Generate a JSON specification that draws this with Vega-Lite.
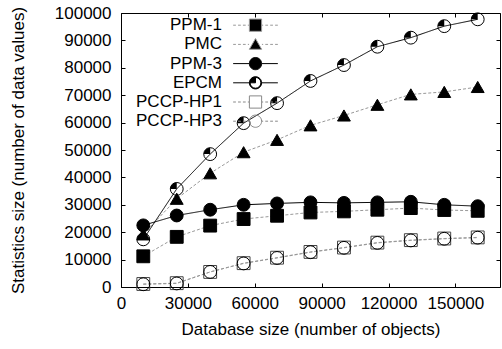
{
  "$schema": "https://vega.github.io/schema/vega-lite/v6.json",
  "width": 379,
  "height": 274,
  "autosize": "none",
  "padding": {"left": 121, "top": 13, "right": 2, "bottom": 62},
  "config": {
    "font": "Liberation Sans",
    "view": {"stroke": "black", "strokeWidth": 1},
    "axis": {"grid": false, "domain": false, "labelFontSize": 17, "titleFontSize": 17, "titleFontWeight": "normal", "labelColor": "black", "titleColor": "black", "tickColor": "black", "labelFont": "Liberation Sans", "titleFont": "Liberation Sans"}
  },
  "data": {"values": [
    {"x": 10000, "y": 11200, "s": "PPM-1"}, {"x": 25000, "y": 18300, "s": "PPM-1"}, {"x": 40000, "y": 22400, "s": "PPM-1"}, {"x": 55000, "y": 24800, "s": "PPM-1"}, {"x": 70000, "y": 26000, "s": "PPM-1"}, {"x": 85000, "y": 27200, "s": "PPM-1"}, {"x": 100000, "y": 27600, "s": "PPM-1"}, {"x": 115000, "y": 28200, "s": "PPM-1"}, {"x": 130000, "y": 28800, "s": "PPM-1"}, {"x": 145000, "y": 28100, "s": "PPM-1"}, {"x": 160000, "y": 27800, "s": "PPM-1"},
    {"x": 10000, "y": 19200, "s": "PMC"}, {"x": 25000, "y": 32200, "s": "PMC"}, {"x": 40000, "y": 41500, "s": "PMC"}, {"x": 55000, "y": 49200, "s": "PMC"}, {"x": 70000, "y": 53700, "s": "PMC"}, {"x": 85000, "y": 59000, "s": "PMC"}, {"x": 100000, "y": 62600, "s": "PMC"}, {"x": 115000, "y": 66500, "s": "PMC"}, {"x": 130000, "y": 70300, "s": "PMC"}, {"x": 145000, "y": 71200, "s": "PMC"}, {"x": 160000, "y": 73000, "s": "PMC"},
    {"x": 10000, "y": 22500, "s": "PPM-3"}, {"x": 25000, "y": 26100, "s": "PPM-3"}, {"x": 40000, "y": 28200, "s": "PPM-3"}, {"x": 55000, "y": 30000, "s": "PPM-3"}, {"x": 70000, "y": 30500, "s": "PPM-3"}, {"x": 85000, "y": 30900, "s": "PPM-3"}, {"x": 100000, "y": 30700, "s": "PPM-3"}, {"x": 115000, "y": 30900, "s": "PPM-3"}, {"x": 130000, "y": 31100, "s": "PPM-3"}, {"x": 145000, "y": 30000, "s": "PPM-3"}, {"x": 160000, "y": 29500, "s": "PPM-3"},
    {"x": 10000, "y": 17400, "s": "EPCM"}, {"x": 25000, "y": 35800, "s": "EPCM"}, {"x": 40000, "y": 48500, "s": "EPCM"}, {"x": 55000, "y": 59800, "s": "EPCM"}, {"x": 70000, "y": 67100, "s": "EPCM"}, {"x": 85000, "y": 75200, "s": "EPCM"}, {"x": 100000, "y": 81000, "s": "EPCM"}, {"x": 115000, "y": 87700, "s": "EPCM"}, {"x": 130000, "y": 91000, "s": "EPCM"}, {"x": 145000, "y": 95200, "s": "EPCM"}, {"x": 160000, "y": 97700, "s": "EPCM"},
    {"x": 10000, "y": 1100, "s": "PCCP-HP1"}, {"x": 25000, "y": 1400, "s": "PCCP-HP1"}, {"x": 40000, "y": 5500, "s": "PCCP-HP1"}, {"x": 55000, "y": 8700, "s": "PCCP-HP1"}, {"x": 70000, "y": 10700, "s": "PCCP-HP1"}, {"x": 85000, "y": 12800, "s": "PCCP-HP1"}, {"x": 100000, "y": 14400, "s": "PCCP-HP1"}, {"x": 115000, "y": 16200, "s": "PCCP-HP1"}, {"x": 130000, "y": 17100, "s": "PCCP-HP1"}, {"x": 145000, "y": 17700, "s": "PCCP-HP1"}, {"x": 160000, "y": 18100, "s": "PCCP-HP1"},
    {"x": 10000, "y": 1000, "s": "PCCP-HP3"}, {"x": 25000, "y": 1300, "s": "PCCP-HP3"}, {"x": 40000, "y": 5500, "s": "PCCP-HP3"}, {"x": 55000, "y": 8600, "s": "PCCP-HP3"}, {"x": 70000, "y": 10600, "s": "PCCP-HP3"}, {"x": 85000, "y": 12700, "s": "PCCP-HP3"}, {"x": 100000, "y": 14300, "s": "PCCP-HP3"}, {"x": 115000, "y": 16100, "s": "PCCP-HP3"}, {"x": 130000, "y": 17000, "s": "PCCP-HP3"}, {"x": 145000, "y": 17600, "s": "PCCP-HP3"}, {"x": 160000, "y": 18000, "s": "PCCP-HP3"}
  ]},
  "resolve": {
    "scale": {"shape": "independent", "fill": "independent", "stroke": "independent"},
    "axis": {"x": "independent", "y": "independent"}
  },
  "layer": [
    {
      "mark": {"type": "line", "strokeWidth": 1},
      "encoding": {
        "x": {"field": "x", "type": "quantitative", "scale": {"domain": [0, 170000], "nice": false},
          "axis": {"orient": "bottom", "title": "Database size (number of objects)", "values": [0, 30000, 60000, 90000, 120000, 150000], "format": "d", "tickSize": -4, "labelPadding": 12, "labelFlush": false, "titlePadding": 10}},
        "y": {"field": "y", "type": "quantitative", "scale": {"domain": [0, 100000], "nice": false},
          "axis": {"orient": "left", "title": "Statistics size (number of data values)", "values": [0, 10000, 20000, 30000, 40000, 50000, 60000, 70000, 80000, 90000, 100000], "format": "d", "tickSize": -4, "labelPadding": 14, "titlePadding": 27}},
        "detail": {"field": "s"},
        "color": {"field": "s", "type": "nominal", "legend": null, "scale": {"domain": ["PPM-1", "PMC", "PPM-3", "EPCM", "PCCP-HP1", "PCCP-HP3"], "range": ["#999999", "#999999", "#000000", "#000000", "#999999", "#999999"]}},
        "strokeDash": {"field": "s", "type": "nominal", "legend": null, "scale": {"domain": ["PPM-1", "PMC", "PPM-3", "EPCM", "PCCP-HP1", "PCCP-HP3"], "range": [[3, 2], [3, 2], [1, 0], [1, 0], [3, 2], [3, 2]]}}
      }
    },
    {
      "mark": {"type": "point", "strokeWidth": 1, "opacity": 1, "size": 165},
      "encoding": {
        "x": {"field": "x", "type": "quantitative", "axis": null},
        "y": {"field": "y", "type": "quantitative", "axis": null},
        "shape": {"field": "s", "type": "nominal", "legend": null, "scale": {"domain": ["PPM-1", "PMC", "PPM-3", "EPCM", "PCCP-HP1", "PCCP-HP3"], "range": ["square", "triangle-up", "circle", "circle", "square", "circle"]}},
        "fill": {"field": "s", "type": "nominal", "legend": null, "scale": {"domain": ["PPM-1", "PMC", "PPM-3", "EPCM", "PCCP-HP1", "PCCP-HP3"], "range": ["#000000", "#000000", "#000000", "transparent", "transparent", "transparent"]}},
        "stroke": {"field": "s", "type": "nominal", "legend": null, "scale": {"domain": ["PPM-1", "PMC", "PPM-3", "EPCM", "PCCP-HP1", "PCCP-HP3"], "range": ["#000000", "#000000", "#000000", "#000000", "#444444", "#000000"]}}
      }
    },
    {
      "transform": [{"filter": "datum.s === 'EPCM'"}],
      "mark": {"type": "point", "filled": true, "opacity": 1, "size": 165, "color": "#000000", "strokeWidth": 0},
      "encoding": {
        "x": {"field": "x", "type": "quantitative", "axis": null},
        "y": {"field": "y", "type": "quantitative", "axis": null},
        "shape": {"value": "M0,0L0,-1A1,1,0,0,0,-1,0Z"}
      }
    },
    {
      "mark": {"type": "point", "opacity": 0, "strokeWidth": 1},
      "encoding": {
        "x": {"field": "x", "type": "quantitative", "axis": null},
        "y": {"field": "y", "type": "quantitative", "axis": null},
        "shape": {"field": "s", "type": "nominal", "scale": {"domain": ["PPM-1", "PMC", "PPM-3", "EPCM", "PCCP-HP1", "PCCP-HP3"], "range": [
          "M-3.65,0H-3.2M-2.85,0H-2.4M-2.05,0H-1.6M-1.25,0H-1.05M1.05,0H1.25M1.6,0H2.05M2.4,0H2.85M3.2,0H3.65M-1,-1H1V1H-1Z",
          "M-3.65,0H-3.2M-2.85,0H-2.4M-2.05,0H-1.6M-1.25,0H-1.05M1.05,0H1.25M1.6,0H2.05M2.4,0H2.85M3.2,0H3.65M0,-0.95L1,0.8H-1Z",
          "M-3.65,0H-1M1,0H3.65M1,0A1,1,0,1,1,-1,0A1,1,0,1,1,1,0Z",
          "M-3.65,0H-1M1,0H3.65M1,0A1,1,0,1,1,-1,0A1,1,0,1,1,1,0ZM0.88,0A0.88,0.88,0,1,0,-0.88,0A0.88,0.88,0,1,0,0.88,0ZM0,0V-0.88A0.88,0.88,0,0,0,-0.88,0Z",
          "M-3.65,0H-3.2M-2.85,0H-2.4M-2.05,0H-1.6M-1.25,0H-1.05M1.05,0H1.25M1.6,0H2.05M2.4,0H2.85M3.2,0H3.65M-1,-1H1V1H-1Z",
          "M-3.65,0H-3.2M-2.85,0H-2.4M-2.05,0H-1.6M-1.25,0H-1.05M1.05,0H1.25M1.6,0H2.05M2.4,0H2.85M3.2,0H3.65M1,0A1,1,0,1,1,-1,0A1,1,0,1,1,1,0Z"
        ]},
          "legend": {"orient": "none", "legendX": 126, "legendY": 3.7, "title": null, "labelAlign": "right", "labelOffset": -42, "labelFontSize": 17, "labelFont": "Liberation Sans", "labelColor": "black", "labelLimit": 300, "symbolSize": 150, "symbolStrokeWidth": 1, "symbolOpacity": 1, "rowPadding": 1.2, "padding": 0}},
        "fill": {"field": "s", "type": "nominal", "scale": {"domain": ["PPM-1", "PMC", "PPM-3", "EPCM", "PCCP-HP1", "PCCP-HP3"], "range": ["#000000", "#000000", "#000000", "#000000", "transparent", "transparent"]}},
        "stroke": {"field": "s", "type": "nominal", "scale": {"domain": ["PPM-1", "PMC", "PPM-3", "EPCM", "PCCP-HP1", "PCCP-HP3"], "range": ["#999999", "#999999", "#000000", "#000000", "#888888", "#888888"]}}
      }
    },
    {
      "mark": {"type": "point", "opacity": 0},
      "encoding": {
        "x": {"field": "x", "type": "quantitative", "axis": {"orient": "top", "title": null, "labels": false, "values": [0, 30000, 60000, 90000, 120000, 150000], "tickSize": -4}},
        "y": {"field": "y", "type": "quantitative", "axis": {"orient": "right", "title": null, "labels": false, "values": [0, 10000, 20000, 30000, 40000, 50000, 60000, 70000, 80000, 90000, 100000], "tickSize": -4}}
      }
    }
  ]
}
